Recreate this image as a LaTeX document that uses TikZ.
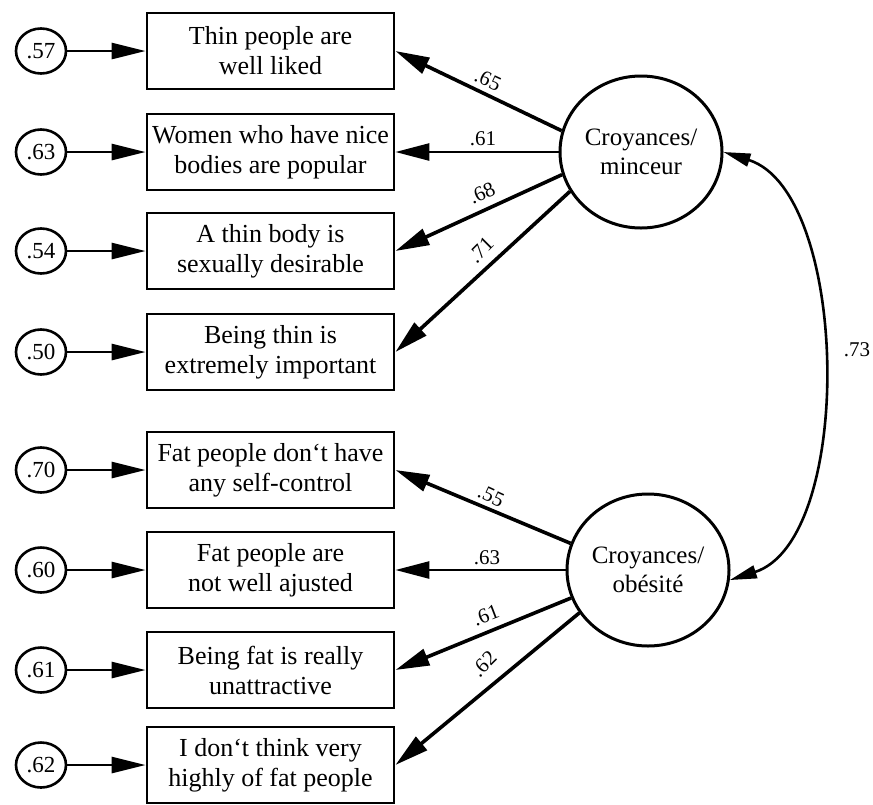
\documentclass[tikz,border=0pt]{standalone}
\usepackage{fontspec}
\setmainfont{Liberation Serif}
\usetikzlibrary{arrows.meta,shapes.geometric}
\begin{document}
\begin{tikzpicture}[x=1pt,y=-1pt,
  item/.style={draw, line width=2.8pt, minimum width=247pt, minimum height=76pt,
    inner sep=0pt, align=center, font=\fontsize{26}{30}\selectfont},
  err/.style={draw, ellipse, line width=2.6pt, minimum width=50pt, minimum height=45pt,
    inner sep=0pt, font=\fontsize{23}{26}\selectfont},
  factor/.style={draw, ellipse, line width=3pt, minimum width=162pt, minimum height=152pt,
    inner sep=0pt, align=center, font=\fontsize{25}{29}\selectfont},
  errarrow/.style={line width=2.8pt, -{Triangle[length=34pt,width=16pt]}},
  load/.style={line width=3.6pt, -{Triangle[length=34pt,width=17pt]}},
  loadh/.style={load, line width=2.6pt},
  corr/.style={line width=2.6pt, {Triangle[length=27pt,width=13pt]}-{Triangle[length=27pt,width=13pt]}},
  coef/.style={inner sep=0pt, font=\fontsize{21}{24}\selectfont},
]
\useasboundingbox (0,0) rectangle (873,804);

% observed items
\node[item] (b1) at (270.5,51)  {Thin people are\\well liked};
\node[item] (b2) at (270.5,152) {Women who have nice\\bodies are popular};
\node[item] (b3) at (270.5,251) {A thin body is\\sexually desirable};
\node[item] (b4) at (270.5,352) {Being thin is\\extremely important};
\node[item] (b5) at (270.5,470) {Fat people don‘t have\\any self-control};
\node[item] (b6) at (270.5,570) {Fat people are\\not well ajusted};
\node[item] (b7) at (270.5,670) {Being fat is really\\unattractive};
\node[item] (b8) at (270.5,765) {I don‘t think very\\highly of fat people};

% error terms
\node[err] (e1) at (41,51)  {.57};
\node[err] (e2) at (41,152) {.63};
\node[err] (e3) at (41,251) {.54};
\node[err] (e4) at (41,352) {.50};
\node[err] (e5) at (41,470) {.70};
\node[err] (e6) at (41,570) {.60};
\node[err] (e7) at (41,670) {.61};
\node[err] (e8) at (41,765) {.62};

\foreach \i in {1,...,8} \draw[errarrow] (e\i) -- (b\i);

% latent factors
\node[factor] (f1) at (641,152) {Croyances/\\minceur};
\node[factor] (f2) at (648,570) {Croyances/\\obésité};

% loadings
\draw[load]  (f1.165) -- (b1.east);
\draw[loadh] (f1.180) -- (b2.east);
\draw[load]  (f1.196) -- (b3.east);
\draw[load]  (f1.209) -- (b4.east);
\draw[load]  (f2.161) -- (b5.east);
\draw[loadh] (f2.180) -- (b6.east);
\draw[load]  (f2.200) -- (b7.east);
\draw[load]  (f2.212) -- (b8.east);

\node[coef, rotate=-25] (l1) at (488,80)  {.65};
\node[coef]             (l2) at (483,139) {.61};
\node[coef, rotate=24]  (l3) at (482,193) {.68};
\node[coef, rotate=45]  (l4) at (481,250) {.71};
\node[coef, rotate=-25] (l5) at (491,496) {.55};
\node[coef]             (l6) at (487,558) {.63};
\node[coef, rotate=21]  (l7) at (486,615) {.61};
\node[coef, rotate=45]  (l8) at (484,664) {.62};

% factor correlation
\draw[corr] (f1.east) .. controls (850,192) and (855,540) .. (f2.-7);
\node[coef] (r) at (857,350) {.73};
\end{tikzpicture}
\end{document}
